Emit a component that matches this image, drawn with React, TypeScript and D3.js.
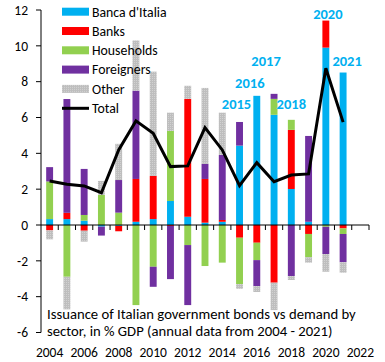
import React from "react";
import * as d3 from "d3";

const years = [
  2004, 2005, 2006, 2007, 2008, 2009, 2010, 2011, 2012, 2013, 2014, 2015,
  2016, 2017, 2018, 2019, 2020, 2021,
];
const axisYears = [...years, 2022];

const bancaItalia = [0.33, 0.33, 0.24, -0.09, -0.05, 0.18, 0.33, 1.34, 0.46, 0.13, 0.18, 4.43, 7.21, 6.15, 2.01, 0.18, 9.9, 8.51];
const banks = [-0.3, 0.35, -0.32, 0, -0.3, 2.39, 2.41, -0.05, 6.58, 2.44, 0.1, -0.71, -0.99, -3.22, 3.3, -0.5, 1.51, -0.19];
const households = [2.1, -2.89, 0.32, 1.68, 0.69, -4.47, -2.33, 3.91, -1.12, -2.29, -2.1, -2.59, -0.97, 0.89, 0.56, -1.3, -0.1, -0.31];
const foreigners = [0.8, 6.35, 2.57, -0.5, 1.82, 4.93, -1.12, -2.97, -3.35, 0.84, 3.63, 1.32, -1.45, 0.28, -2.85, 4.79, -1.52, -1.58];
const other = [-0.5, -1.82, -0.61, 0.78, 2.02, 2.8, 5.82, 1.02, 0.73, 4.24, 2.36, -0.26, -0.33, -1.53, -0.22, -0.3, -0.99, -0.58];
const total = [2.46, 2.27, 2.18, 1.8, 4.19, 5.81, 5.12, 3.26, 3.3, 5.44, 4.19, 2.2, 3.48, 2.42, 2.79, 2.85, 8.75, 5.74];

const seriesNames = ["Banca d'Italia", "Banks", "Households", "Foreigners", "Other"];
const seriesColors = ["#00B0F0", "#FF0000", "#92D050", "#7030A0", "url(#dots)"];
const seriesValues = [bancaItalia, banks, households, foreigners, other];

const yTicks = [-6, -4, -2, 0, 2, 4, 6, 8, 10, 12];
const xTickLabels = [2004, 2006, 2008, 2010, 2012, 2014, 2016, 2018, 2020, 2022];

// blue year annotations above the Banca d'Italia bars
const noteYears = [2015, 2016, 2017, 2018, 2020, 2021];
const noteValues = [6.78, 7.95, 9.15, 6.75, 11.78, 9.15];

const captionLines = [
  "Issuance of Italian government bonds vs demand by",
  "sector, in % GDP (annual data from 2004 - 2021)",
];

const font = "Carlito, Calibri, 'Liberation Sans', sans-serif";

export default function App() {
  const width = 385;
  const height = 362;
  const left = 41;
  const right = 369;

  const x = d3
    .scaleBand<string>()
    .domain(axisYears.map(String))
    .range([left, right])
    .paddingInner(0.6)
    .paddingOuter(0.3);
  const y = d3.scaleLinear().domain([-6, 12]).range([332.5, 10]);

  const rows = years.map((yr, i) => {
    const r: any = { year: String(yr) };
    seriesNames.forEach((n, j) => (r[n] = seriesValues[j][i]));
    return r;
  });
  const stacked = d3
    .stack<any>()
    .keys(seriesNames)
    .offset(d3.stackOffsetDiverging)(rows);

  const cx = (yr: number) => (x(String(yr)) ?? 0) + x.bandwidth() / 2;
  const line = d3
    .line<number>()
    .x((_, i) => cx(years[i]))
    .y((d) => y(d));

  const step = x.step();
  const noteShift: Record<number, number> = { 2015: -3, 2016: -7, 2017: -8, 2018: 0, 2020: 2, 2021: 4 };

  return (
    <svg width={width} height={height} style={{ position: "absolute", left: 0, top: 0 }}>
      <defs>
        <pattern id="dots" width="2" height="2" patternUnits="userSpaceOnUse">
          <rect width="2" height="2" fill="#BEBEBE" />
          <rect width="1" height="1" fill="#D2D2D2" />
        </pattern>
      </defs>

      {stacked.map((s, j) => (
        <g key={s.key} fill={seriesColors[j]}>
          {s.map((d, i) => {
            const y0 = y(d[0]);
            const y1 = y(d[1]);
            return (
              <rect
                key={i}
                x={x(String(years[i]))}
                width={x.bandwidth()}
                y={Math.min(y0, y1)}
                height={Math.abs(y0 - y1)}
              />
            );
          })}
        </g>
      ))}

      {/* axes */}
      <line x1={left} x2={left} y1={y(12)} y2={y(-6)} stroke="#000" strokeWidth={1} />
      {yTicks.map((t) => (
        <g key={t}>
          <line x1={left - 5} x2={left} y1={y(t)} y2={y(t)} stroke="#000" />
          <text
            x={28}
            y={y(t)}
            dy="0.35em"
            textAnchor="end"
            fontSize={13.5}
            fontFamily={font}
            fill="#000"
          >
            {t}
          </text>
        </g>
      ))}
      <line x1={left} x2={right} y1={y(0)} y2={y(0)} stroke="#000" />
      {axisYears.map((_, i) => (
        <line
          key={i}
          x1={left + (i + 1) * step}
          x2={left + (i + 1) * step}
          y1={y(0)}
          y2={y(0) + 5}
          stroke="#000"
        />
      ))}
      {xTickLabels.map((t) => (
        <text
          key={t}
          x={cx(t)}
          y={352}
          dy="0.35em"
          textAnchor="middle"
          fontSize={13.5}
          fontFamily={font}
          fill="#000"
        >
          {t}
        </text>
      ))}

      <path d={line(total) ?? ""} fill="none" stroke="#000" strokeWidth={3} />

      {noteYears.map((yr, i) => (
        <text
          key={yr}
          x={cx(yr) + noteShift[yr]}
          y={y(noteValues[i])}
          dy="0.35em"
          textAnchor="middle"
          fontSize={14.5}
          fontWeight="bold"
          fontFamily={font}
          fill="#00B0F0"
        >
          {yr}
        </text>
      ))}

      {/* legend */}
      {seriesNames.map((n, j) => (
        <g key={n} transform={`translate(62, ${11.7 + j * 19.3})`}>
          <rect x={0} y={-4} width={27} height={8} fill={seriesColors[j]} />
          <text x={30} y={0} dy="0.35em" fontSize={13.8} fontFamily={font} fill="#000">
            {n}
          </text>
        </g>
      ))}
      <g transform="translate(62, 108.3)">
        <line x1={0} x2={27} y1={0} y2={0} stroke="#000" strokeWidth={3} />
        <text x={30} y={0} dy="0.35em" fontSize={13.8} fontFamily={font} fill="#000">
          Total
        </text>
      </g>

      {captionLines.map((l, i) => (
        <text
          key={i}
          x={47}
          y={314 + i * 16.7}
          dy="0.35em"
          fontSize={14.7}
          fontFamily={font}
          fill="#000"
        >
          {l}
        </text>
      ))}
    </svg>
  );
}
